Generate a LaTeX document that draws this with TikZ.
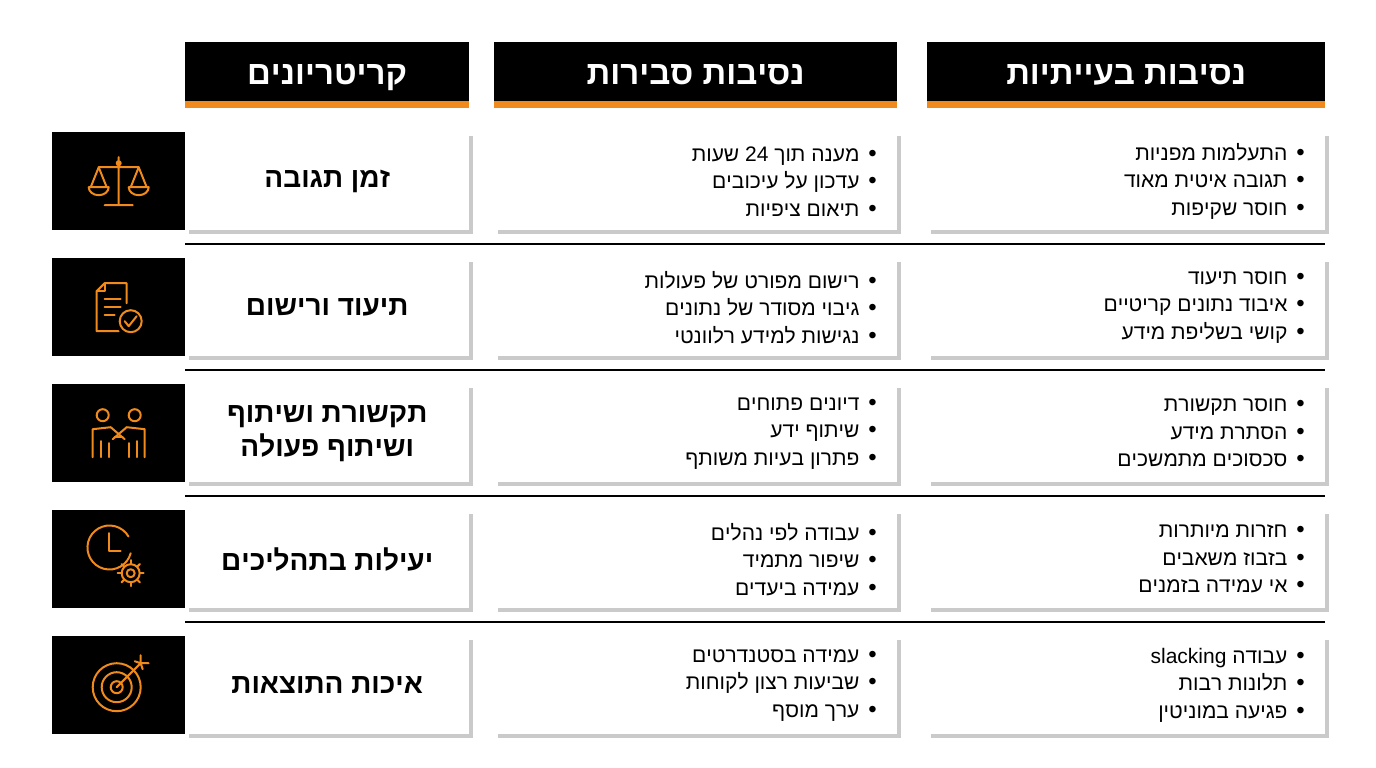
\documentclass[tikz,border=0pt]{standalone}
\usepackage{fontspec}
\setmainfont{Liberation Sans}
\TeXXeTstate=1
\usetikzlibrary{shadows}
\definecolor{org}{HTML}{F08A1C}
\newcommand{\bu}{{\fontsize{24}{24}\selectfont•}\hspace{9pt}}
\begin{document}
\begin{tikzpicture}[x=1pt,y=-1pt,
  hdr/.style={fill=black,text=white,minimum height=66pt,anchor=north west,inner sep=0pt,text height=24pt,text depth=6pt,font=\fontsize{33}{33}\selectfont\bfseries},
  cell/.style={fill=white,anchor=north west,inner sep=0pt,minimum height=98pt,drop shadow={shadow xshift=4pt,shadow yshift=-4pt,fill=gray!70,opacity=.6}},
  ibox/.style={fill=black,anchor=north west,inner sep=0pt,minimum width=133pt,minimum height=98pt},
  crit/.style={font=\fontsize{28}{34}\selectfont\bfseries,align=center},
  items/.style={anchor=east,align=right,font=\fontsize{21}{27.5}\selectfont},
  ic/.style={draw=org,line width=2pt,line cap=round,line join=round},
  sep/.style={line width=1.2pt}]
\useasboundingbox (0,0) rectangle (1376,768);
\node[hdr,minimum width=284pt] (h1) at (185,42) {\beginR קריטריונים\endR};
\node[hdr,minimum width=403pt] (h2) at (494,42) {\beginR נסיבות סבירות\endR};
\node[hdr,minimum width=398pt] (h3) at (927,42) {\beginR נסיבות בעייתיות\endR};
\foreach \h in {h1,h2,h3}{\fill[org] (\h.south west) rectangle ([yshift=7pt]\h.south east);}
\foreach \i/\t in {1/132,2/258,3/384,4/510,5/636}{
  \node[ibox] (i\i) at (52,\t) {};
  \node[cell,minimum width=284pt] (c\i) at (185,\t) {};
  \node[cell,minimum width=403pt] (m\i) at (494,\t) {};
  \node[cell,minimum width=398pt] (r\i) at (927,\t) {};
}
\foreach \y in {244,370,496,622}{\draw[sep] (185,\y) -- (1325,\y);}
\node[crit] at (c1) {\beginR זמן תגובה\endR};
\node[crit] at (c2) {\beginR תיעוד ורישום\endR};
\node[crit] at (c3) {\beginR תקשורת ושיתוף\endR\\\beginR ושיתוף פעולה\endR};
\node[crit] at (c4) {\beginR יעילות בתהליכים\endR};
\node[crit] at (c5) {\beginR איכות התוצאות\endR};
\node[items] at ([xshift=-17pt]m1.east) {\beginR\bu מענה תוך \beginL24\endL{} שעות\endR\\\beginR\bu עדכון על עיכובים\endR\\\beginR\bu תיאום ציפיות\endR};
\node[items] at ([xshift=-17pt]m2.east) {\beginR\bu רישום מפורט של פעולות\endR\\\beginR\bu גיבוי מסודר של נתונים\endR\\\beginR\bu נגישות למידע רלוונטי\endR};
\node[items] at ([xshift=-17pt]m3.east) {\beginR\bu דיונים פתוחים\endR\\\beginR\bu שיתוף ידע\endR\\\beginR\bu פתרון בעיות משותף\endR};
\node[items] at ([xshift=-17pt]m4.east) {\beginR\bu עבודה לפי נהלים\endR\\\beginR\bu שיפור מתמיד\endR\\\beginR\bu עמידה ביעדים\endR};
\node[items] at ([xshift=-17pt]m5.east) {\beginR\bu עמידה בסטנדרטים\endR\\\beginR\bu שביעות רצון לקוחות\endR\\\beginR\bu ערך מוסף\endR};
\node[items] at ([xshift=-17pt]r1.east) {\beginR\bu התעלמות מפניות\endR\\\beginR\bu תגובה איטית מאוד\endR\\\beginR\bu חוסר שקיפות\endR};
\node[items] at ([xshift=-17pt]r2.east) {\beginR\bu חוסר תיעוד\endR\\\beginR\bu איבוד נתונים קריטיים\endR\\\beginR\bu קושי בשליפת מידע\endR};
\node[items] at ([xshift=-17pt]r3.east) {\beginR\bu חוסר תקשורת\endR\\\beginR\bu הסתרת מידע\endR\\\beginR\bu סכסוכים מתמשכים\endR};
\node[items] at ([xshift=-17pt]r4.east) {\beginR\bu חזרות מיותרות\endR\\\beginR\bu בזבוז משאבים\endR\\\beginR\bu אי עמידה בזמנים\endR};
\node[items] at ([xshift=-17pt]r5.east) {\beginR\bu עבודה \beginL slacking\endL\endR\\\beginR\bu תלונות רבות\endR\\\beginR\bu פגיעה במוניטין\endR};
\begin{scope}[shift={(i1.center)}]
 \draw[ic] (0,-24) -- (0,24) (-14,24) -- (14,24) (-20,-14) -- (20,-14) (0,-18) circle (2);
 \draw[ic] (-20,-14) -- (-28,6) (-20,-14) -- (-12,6) (-30,6) arc (180:0:10 and 8) -- cycle;
 \draw[ic] (20,-14) -- (12,6) (20,-14) -- (28,6) (10,6) arc (180:0:10 and 8) -- cycle;
\end{scope}
\begin{scope}[shift={(i2.center)}]
 \draw[ic] (8,-4) -- (8,-24) -- (-14,-24) -- (-22,-16) -- (-22,24) -- (0,24);
 \draw[ic] (-14,-24) -- (-14,-16) -- (-22,-16);
 \draw[ic] (-14,-8) -- (2,-8) (-14,0) -- (2,0) (-14,8) -- (-4,8);
 \draw[ic] (12,14) circle (11); \draw[ic] (6,14) -- (10,19) -- (18,9);
\end{scope}
\begin{scope}[shift={(i3.center)}]
 \draw[ic] (-16,-18) circle (6) (16,-18) circle (6);
 \draw[ic] (-26,24) -- (-26,-4) -- (-8,-6) -- (6,6) (26,24) -- (26,-4) -- (8,-6) -- (-6,6);
 \draw[ic] (-18,24) -- (-18,8) (18,24) -- (18,8) (-10,24) -- (-10,10) (10,24) -- (10,10);
 \draw[ic] (-4,4) -- (4,4);
\end{scope}
\begin{scope}[shift={(i4.center)}]
 \draw[ic] (12,-6) arc (15:330:22);
 \draw[ic] (-10,-26) -- (-10,-8) -- (2,-8);
 \draw[ic] (12,14) circle (4);
 \foreach \a in {0,45,...,315}{\draw[ic] ([shift={(\a:9)}]12,14) -- ([shift={(\a:13)}]12,14);}
 \draw[ic] (12,14) circle (9);
\end{scope}
\begin{scope}[shift={(i5.center)}]
 \draw[ic] (-2,2) circle (24) (-2,2) circle (15) (-2,2) circle (6);
 \draw[ic] (-2,2) -- (22,-22) (16,-24) -- (22,-22) -- (24,-16) (22,-30) -- (22,-22) -- (30,-22);
\end{scope}
\end{tikzpicture}
\end{document}
